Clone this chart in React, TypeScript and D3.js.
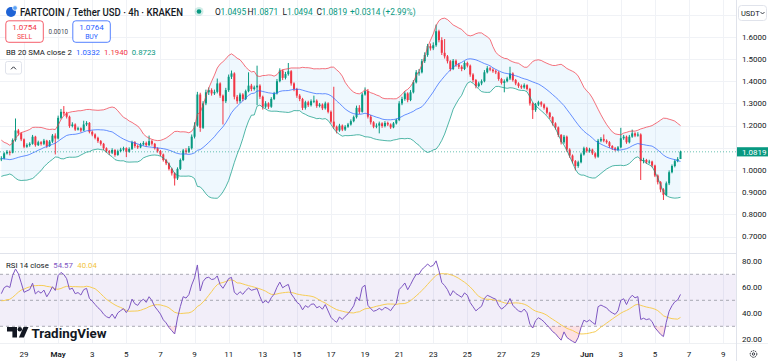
import React from 'react';
import * as d3 from 'd3';

// ── Canvas ────────────────────────────────────────────────────────────────────
const W = 768;
const H = 361;
const AXIS_X = 736; // price scale divider
const FONT = "Roboto, 'Liberation Sans', sans-serif";
const UP = '#089981';
const DOWN = '#f23645';
const INK = '#131722';
const GRID = '#f0f2f6';

// 4h bars, Apr 27 16:00 → Jun 6 12:00
const FIRST_BAR = new Date(2025, 3, 27, 16);
const BAR_MS = 4 * 3600 * 1000;

// closes before the visible window, only used to warm up BB(20) and RSI(14)
const priorCloses = [
  1.02, 1.04, 1.03, 1.06, 1.08, 1.07, 1.10, 1.09, 1.11, 1.12,
  1.10, 1.13, 1.11, 1.12, 1.09, 1.10, 1.08, 1.07, 1.05, 1.06,
  1.03, 1.02, 1.00, 0.99, 1.01, 0.995, 1.02, 1.035, 1.045, 1.05,
];
const firstOpen = 1.05;

const closes = [
  1.052, 1.075, 1.082, 1.078, 1.135, 1.178, 1.165, 1.138, 1.105, 1.112,
  1.118, 1.150, 1.112, 1.125, 1.118, 1.132, 1.108, 1.128, 1.155, 1.142,
  1.235, 1.262, 1.255, 1.240, 1.198, 1.205, 1.182, 1.188, 1.178, 1.205,
  1.212, 1.172, 1.160, 1.145, 1.130, 1.118, 1.098, 1.085, 1.078, 1.090,
  1.068, 1.085, 1.092, 1.098, 1.082, 1.095, 1.125, 1.108, 1.102, 1.115,
  1.122, 1.112, 1.130, 1.118, 1.098, 1.085, 1.070, 1.045, 1.030, 1.005,
  0.985, 0.962, 1.005, 1.045, 1.088, 1.082, 1.098, 1.150, 1.200, 1.340,
  1.190, 1.300, 1.350, 1.360, 1.345, 1.352, 1.390, 1.335, 1.310, 1.360,
  1.420, 1.435, 1.330, 1.310, 1.340, 1.320, 1.355, 1.380, 1.365, 1.372,
  1.380, 1.330, 1.285, 1.300, 1.285, 1.320, 1.345, 1.400, 1.448, 1.415,
  1.432, 1.445, 1.390, 1.365, 1.335, 1.320, 1.280, 1.305, 1.292, 1.310,
  1.312, 1.288, 1.295, 1.278, 1.300, 1.262, 1.218, 1.195, 1.178, 1.200,
  1.182, 1.195, 1.205, 1.220, 1.238, 1.280, 1.262, 1.340, 1.355, 1.240,
  1.215, 1.195, 1.200, 1.210, 1.198, 1.212, 1.205, 1.192, 1.210, 1.225,
  1.300, 1.320, 1.345, 1.315, 1.350, 1.395, 1.440, 1.440, 1.490, 1.518,
  1.558, 1.548, 1.562, 1.625, 1.585, 1.528, 1.512, 1.490, 1.455, 1.492,
  1.475, 1.465, 1.455, 1.482, 1.470, 1.430, 1.405, 1.378, 1.390, 1.400,
  1.440, 1.458, 1.452, 1.445, 1.440, 1.410, 1.392, 1.400, 1.412, 1.435,
  1.405, 1.390, 1.378, 1.372, 1.382, 1.365, 1.300, 1.270, 1.295, 1.305,
  1.295, 1.280, 1.258, 1.238, 1.210, 1.192, 1.158, 1.125, 1.150, 1.092,
  1.065, 1.040, 1.018, 1.035, 1.070, 1.098, 1.085, 1.092, 1.075, 1.060,
  1.132, 1.140, 1.132, 1.125, 1.108, 1.098, 1.090, 1.102, 1.143, 1.150,
  1.125, 1.150, 1.165, 1.155, 1.160, 1.040, 1.045, 1.035, 1.038, 1.020,
  0.975, 0.945, 0.912, 0.888, 0.940, 0.990, 1.018, 1.040, 1.0495, 1.0819,
];

const highs = [
  1.062, 1.080, 1.090, 1.088, 1.142, 1.232, 1.185, 1.170, 1.142, 1.120,
  1.125, 1.158, 1.154, 1.132, 1.130, 1.140, 1.136, 1.135, 1.162, 1.165,
  1.245, 1.275, 1.288, 1.262, 1.245, 1.215, 1.210, 1.195, 1.192, 1.222,
  1.220, 1.216, 1.178, 1.165, 1.150, 1.135, 1.122, 1.102, 1.090, 1.098,
  1.094, 1.092, 1.100, 1.105, 1.102, 1.102, 1.132, 1.130, 1.115, 1.122,
  1.130, 1.128, 1.155, 1.136, 1.122, 1.102, 1.090, 1.074, 1.050, 1.034,
  1.010, 0.990, 1.012, 1.052, 1.095, 1.098, 1.108, 1.160, 1.215, 1.352,
  1.348, 1.310, 1.362, 1.372, 1.368, 1.362, 1.412, 1.395, 1.340, 1.370,
  1.430, 1.448, 1.440, 1.338, 1.348, 1.346, 1.362, 1.440, 1.388, 1.380,
  1.470, 1.386, 1.335, 1.310, 1.305, 1.328, 1.352, 1.410, 1.458, 1.452,
  1.442, 1.482, 1.450, 1.395, 1.370, 1.342, 1.325, 1.312, 1.312, 1.318,
  1.335, 1.318, 1.302, 1.300, 1.308, 1.305, 1.268, 1.375, 1.200, 1.208,
  1.205, 1.202, 1.212, 1.228, 1.245, 1.290, 1.292, 1.348, 1.372, 1.365,
  1.248, 1.220, 1.210, 1.218, 1.215, 1.220, 1.218, 1.210, 1.216, 1.232,
  1.310, 1.330, 1.355, 1.350, 1.360, 1.405, 1.450, 1.455, 1.500, 1.530,
  1.568, 1.570, 1.575, 1.655, 1.632, 1.598, 1.590, 1.518, 1.495, 1.500,
  1.498, 1.482, 1.472, 1.490, 1.488, 1.475, 1.436, 1.410, 1.398, 1.408,
  1.450, 1.468, 1.465, 1.458, 1.452, 1.445, 1.415, 1.408, 1.420, 1.465,
  1.440, 1.410, 1.395, 1.385, 1.390, 1.386, 1.370, 1.305, 1.302, 1.312,
  1.310, 1.300, 1.285, 1.262, 1.242, 1.215, 1.196, 1.162, 1.158, 1.155,
  1.098, 1.070, 1.045, 1.042, 1.078, 1.105, 1.104, 1.100, 1.096, 1.080,
  1.140, 1.148, 1.160, 1.138, 1.130, 1.112, 1.104, 1.108, 1.190, 1.158,
  1.155, 1.158, 1.182, 1.170, 1.170, 1.165, 1.055, 1.050, 1.046, 1.042,
  1.024, 0.980, 0.950, 0.918, 0.948, 0.998, 1.025, 1.048, 1.058, 1.0871,
];

const lows = [
  1.040, 1.048, 1.070, 1.066, 1.075, 1.128, 1.155, 1.130, 1.098, 1.100,
  1.105, 1.114, 1.105, 1.108, 1.110, 1.112, 1.100, 1.104, 1.122, 1.070,
  1.138, 1.228, 1.245, 1.232, 1.190, 1.192, 1.176, 1.178, 1.170, 1.175,
  1.198, 1.165, 1.152, 1.138, 1.122, 1.110, 1.090, 1.078, 1.068, 1.072,
  1.060, 1.064, 1.080, 1.086, 1.058, 1.078, 1.090, 1.100, 1.095, 1.098,
  1.110, 1.105, 1.108, 1.110, 1.092, 1.078, 1.062, 1.038, 1.022, 0.998,
  0.975, 0.930, 0.955, 1.000, 1.040, 1.072, 1.076, 1.092, 1.142, 1.195,
  1.172, 1.185, 1.292, 1.338, 1.335, 1.338, 1.345, 1.325, 1.205, 1.302,
  1.352, 1.410, 1.318, 1.298, 1.302, 1.310, 1.315, 1.350, 1.355, 1.358,
  1.292, 1.320, 1.272, 1.278, 1.275, 1.280, 1.315, 1.340, 1.395, 1.405,
  1.408, 1.425, 1.380, 1.355, 1.325, 1.310, 1.270, 1.272, 1.284, 1.286,
  1.302, 1.280, 1.282, 1.270, 1.272, 1.255, 1.210, 1.185, 1.165, 1.172,
  1.175, 1.176, 1.190, 1.200, 1.215, 1.232, 1.252, 1.258, 1.335, 1.232,
  1.205, 1.188, 1.188, 1.165, 1.190, 1.192, 1.198, 1.185, 1.188, 1.205,
  1.220, 1.292, 1.312, 1.305, 1.310, 1.345, 1.390, 1.425, 1.435, 1.482,
  1.510, 1.538, 1.540, 1.555, 1.575, 1.518, 1.502, 1.480, 1.445, 1.450,
  1.465, 1.455, 1.445, 1.450, 1.462, 1.420, 1.395, 1.368, 1.372, 1.382,
  1.395, 1.435, 1.445, 1.438, 1.432, 1.402, 1.385, 1.350, 1.395, 1.405,
  1.398, 1.382, 1.370, 1.365, 1.366, 1.358, 1.290, 1.230, 1.262, 1.288,
  1.285, 1.272, 1.250, 1.230, 1.200, 1.182, 1.148, 1.115, 1.118, 1.082,
  1.055, 1.030, 0.998, 1.010, 1.030, 1.065, 1.078, 1.078, 1.068, 1.052,
  1.055, 1.125, 1.125, 1.118, 1.100, 1.090, 1.084, 1.085, 1.098, 1.136,
  1.118, 1.120, 1.145, 1.148, 1.150, 0.955, 1.030, 1.028, 1.028, 1.012,
  0.968, 0.935, 0.900, 0.865, 0.882, 0.932, 0.985, 1.012, 1.035, 1.0494,
];

// legend readouts as shown on the chart
const changeText = '+0.0314 (+2.99%)';
const sellBuy = ['1.0754', '0.0010', '1.0764'];
const bbLegend = ['1.0332', '1.1940', '0.8723'];
const rsiLegend = ['54.57', '40.04'];

// axis ticks (1.1000 sits under the last-price tag, so it is not labelled)
const priceTicks = [0.7, 0.8, 0.9, 1.0, 1.2, 1.3, 1.4, 1.5, 1.6];
const priceGrid = [0.7, 0.8, 0.9, 1.0, 1.1, 1.2, 1.3, 1.4, 1.5, 1.6, 1.7];
const rsiTicks = [20, 40, 60, 80];
const rsiLevels = [70, 50, 30];
const tickDays = [
  '2025-04-29', '2025-05-01', '2025-05-03', '2025-05-05', '2025-05-07', '2025-05-09',
  '2025-05-11', '2025-05-13', '2025-05-15', '2025-05-17', '2025-05-19', '2025-05-21',
  '2025-05-23', '2025-05-25', '2025-05-27', '2025-05-29', '2025-06-01', '2025-06-03',
  '2025-06-05', '2025-06-07', '2025-06-09',
];
const tickLabels = [
  '29', 'May', '3', '5', '7', '9', '11', '13', '15', '17', '19', '21',
  '23', '25', '27', '29', 'Jun', '3', '5', '7', '9',
];

// ── Indicators ────────────────────────────────────────────────────────────────
const all = priorCloses.concat(closes);
const P = priorCloses.length;

function bollinger(len: number, mult: number) {
  return closes.map((_, i) => {
    const w = all.slice(P + i - len + 1, P + i + 1);
    const m = d3.mean(w)!;
    const sd = Math.sqrt(d3.mean(w, (v) => (v - m) * (v - m))!);
    return { mid: m, up: m + mult * sd, lo: m - mult * sd };
  });
}

function rsiSeries(len: number) {
  const out: number[] = new Array(all.length).fill(NaN);
  let g = 0;
  let l = 0;
  for (let k = 1; k < all.length; k++) {
    const ch = all[k] - all[k - 1];
    const up = Math.max(ch, 0);
    const dn = Math.max(-ch, 0);
    if (k <= len) {
      g += up / len;
      l += dn / len;
      if (k < len) continue;
    } else {
      g = (g * (len - 1) + up) / len;
      l = (l * (len - 1) + dn) / len;
    }
    out[k] = l === 0 ? 100 : 100 - 100 / (1 + g / l);
  }
  return out;
}

const bands = bollinger(20, 2);
const rsiAll = rsiSeries(14);
const rsi = closes.map((_, i) => rsiAll[P + i]);
const rsiMa = closes.map((_, i) => d3.mean(rsiAll.slice(P + i - 13, P + i + 1))!);

type Band = { mid: number; up: number; lo: number };

export default function App() {
  const times = closes.map((_, i) => new Date(FIRST_BAR.getTime() + i * BAR_MS));
  const x = d3.scaleTime().domain([times[0], times[times.length - 1]]).range([1.3, 680.5]);
  const y = d3.scaleLinear().domain([0.7, 1.6]).range([236.6, 36.8]);
  const yR = d3.scaleLinear().domain([20, 80]).range([339.3, 261.3]);
  const parseDay = d3.timeParse('%Y-%m-%d');
  const fmt4 = d3.format('.4f');
  const fmt2 = d3.format('.2f');

  const opens = closes.map((_, i) => (i === 0 ? firstOpen : closes[i - 1]));
  const bw = 2;

  const bandLine = (key: keyof Band) =>
    d3.line<Band>()
      .x((_, i) => x(times[i]))
      .y((d) => y(d[key]))(bands)!;
  const bandFill = d3.area<Band>()
    .x((_, i) => x(times[i]))
    .y0((d) => y(d.lo))
    .y1((d) => y(d.up))(bands)!;

  const rsiLine = d3.line<number>().x((_, i) => x(times[i])).y((d) => yR(d))(rsi)!;
  const maLine = d3.line<number>().x((_, i) => x(times[i])).y((d) => yR(d))(rsiMa)!;
  const oversold = d3.area<number>()
    .x((_, i) => x(times[i]))
    .y0(yR(30))
    .y1((d) => yR(Math.min(d, 30)))(rsi)!;

  const last = closes[closes.length - 1];
  const lastY = y(last);

  return (
    <div style={{ position: 'fixed', left: 0, top: 0, width: W, height: H, background: '#fff' }}>
      <style>{'body{margin:0}'}</style>
      <svg width={W} height={H} style={{ display: 'block', fontFamily: FONT }}>
        <defs>
          <clipPath id="pricePane">
            <rect x={0} y={0} width={AXIS_X} height={253} />
          </clipPath>
          <clipPath id="rsiPane">
            <rect x={0} y={254} width={AXIS_X} height={89} />
          </clipPath>
        </defs>

        {/* grid */}
        {tickDays.map((d) => {
          const gx = Math.round(x(parseDay(d)!)) + 0.5;
          return <line key={d} x1={gx} x2={gx} y1={0} y2={343} stroke={GRID} />;
        })}
        {priceGrid.map((p) => (
          <line key={p} x1={0} x2={AXIS_X} y1={Math.round(y(p)) + 0.5} y2={Math.round(y(p)) + 0.5} stroke={GRID} />
        ))}

        {/* ── price pane ── */}
        <g clipPath="url(#pricePane)">
          <path d={bandFill} fill="rgba(33,150,243,0.07)" />
          {closes.map((c, i) => {
            const o = opens[i];
            const cx = x(times[i]);
            const col = c >= o ? UP : DOWN;
            const top = y(Math.max(o, c));
            const bot = y(Math.min(o, c));
            return (
              <g key={i}>
                <line x1={cx} x2={cx} y1={y(highs[i])} y2={y(lows[i])} stroke={col} strokeWidth={1} />
                <rect x={cx - bw / 2} y={top} width={bw} height={Math.max(1, bot - top)} fill={col} />
              </g>
            );
          })}
          <path d={bandLine('up')} fill="none" stroke={DOWN} strokeOpacity={0.7} strokeWidth={1} />
          <path d={bandLine('mid')} fill="none" stroke="#2962ff" strokeOpacity={0.7} strokeWidth={1} />
          <path d={bandLine('lo')} fill="none" stroke={UP} strokeOpacity={0.7} strokeWidth={1} />
          <line x1={0} x2={AXIS_X} y1={lastY} y2={lastY} stroke={UP} strokeOpacity={0.6} strokeDasharray="1 2" />
        </g>

        {/* pane separators */}
        <line x1={0} x2={AXIS_X} y1={253.5} y2={253.5} stroke="#e0e3eb" />
        <line x1={0} x2={W} y1={343.5} y2={343.5} stroke="#eef0f3" />
        <line x1={AXIS_X + 0.5} x2={AXIS_X + 0.5} y1={0} y2={H} stroke="#e0e3eb" />

        {/* ── RSI pane ── */}
        <g clipPath="url(#rsiPane)">
          <rect x={0} y={yR(70)} width={AXIS_X} height={yR(30) - yR(70)} fill="rgba(126,87,194,0.1)" />
          {rsiLevels.map((v) => (
            <line key={v} x1={0} x2={AXIS_X} y1={yR(v)} y2={yR(v)} stroke="#9598a1" strokeDasharray="3 3" strokeWidth={0.8} />
          ))}
          <path d={oversold} fill="rgba(242,54,69,0.15)" />
          <path d={maLine} fill="none" stroke="#f7cd55" strokeWidth={1} />
          <path d={rsiLine} fill="none" stroke="#7e57c2" strokeWidth={1} />
        </g>

        {/* ── price axis ── */}
        {priceTicks.map((p) => (
          <text key={p} x={742} y={y(p) + 2.8} fontSize={8} fill={INK}>
            {fmt4(p)}
          </text>
        ))}
        <rect x={AXIS_X + 1} y={lastY - 4.6} width={W - AXIS_X - 1} height={9.2} fill={UP} />
        <text x={742} y={lastY + 2.8} fontSize={8} fill="#fff">
          {fmt4(last)}
        </text>
        <rect x={738.5} y={5.5} width={28} height={15} rx={3} fill="#fff" stroke="#e0e3eb" />
        <text x={741} y={15.6} fontSize={7.5} fill={INK}>USDT</text>
        <path d="M760.5,12 l2,2 l2,-2" fill="none" stroke={INK} strokeWidth={0.8} />

        {/* RSI axis */}
        {rsiTicks.map((v) => (
          <text key={v} x={742} y={yR(v) + 2.8} fontSize={8} fill={INK}>
            {fmt2(v)}
          </text>
        ))}

        {/* time axis */}
        {tickDays.map((d, i) => {
          const lbl = tickLabels[i];
          const month = lbl === 'May' || lbl === 'Jun';
          return (
            <text key={d} x={x(parseDay(d)!)} y={357} fontSize={8} textAnchor="middle" fill={INK} fontWeight={month ? 600 : 400}>
              {lbl}
            </text>
          );
        })}
        <circle cx={753.5} cy={354} r={3.3} fill="none" stroke={INK} strokeWidth={0.9} strokeDasharray="1.6 0.8" />
        <circle cx={753.5} cy={354} r={1.2} fill="none" stroke={INK} strokeWidth={0.8} />

        {/* ── legend: symbol line ── */}
        <circle cx={11} cy={12} r={5} fill="#1e63d6" />
        <circle cx={15} cy={8} r={2.4} fill="#5aa2f5" stroke="#fff" strokeWidth={0.8} />
        <text x={20} y={15.5} fontSize={10.5} fontWeight={500} fill={INK} textLength={163} lengthAdjust="spacingAndGlyphs">
          FARTCOIN / Tether USD · 4h · KRAKEN
        </text>
        <circle cx={199} cy={11.5} r={4.5} fill="rgba(8,153,129,0.18)" />
        <circle cx={199} cy={11.5} r={2.3} fill={UP} />
        <g fontSize={8.4}>
          <text x={215} y={14.5} fill={INK}>O</text>
          <text x={220.5} y={14.5} fill={UP}>{fmt4(opens[opens.length - 1])}</text>
          <text x={247.5} y={14.5} fill={INK}>H</text>
          <text x={252.5} y={14.5} fill={UP}>{fmt4(highs[highs.length - 1])}</text>
          <text x={282.5} y={14.5} fill={INK}>L</text>
          <text x={287} y={14.5} fill={UP}>{fmt4(lows[lows.length - 1])}</text>
          <text x={316.5} y={14.5} fill={INK}>C</text>
          <text x={321.5} y={14.5} fill={UP}>{fmt4(last)}</text>
          <text x={350} y={14.5} fill={UP}>{changeText}</text>
        </g>

        {/* sell / buy */}
        <rect x={5.8} y={20.8} width={37.5} height={21.5} rx={3} fill="#fff" stroke={DOWN} strokeWidth={0.8} />
        <text x={24.5} y={30.3} fontSize={8} textAnchor="middle" fill={DOWN}>{sellBuy[0]}</text>
        <text x={24.5} y={38.8} fontSize={6.8} textAnchor="middle" fill={DOWN}>SELL</text>
        <text x={58.3} y={34} fontSize={6.3} textAnchor="middle" fill="#434651">{sellBuy[1]}</text>
        <rect x={72.8} y={20.8} width={37.5} height={21.5} rx={3} fill="#fff" stroke="#2962ff" strokeWidth={0.8} />
        <text x={91.5} y={30.3} fontSize={8} textAnchor="middle" fill="#2962ff">{sellBuy[2]}</text>
        <text x={91.5} y={38.8} fontSize={6.8} textAnchor="middle" fill="#2962ff">BUY</text>

        {/* BB legend */}
        <g fontSize={7.8}>
          <text x={6} y={54.5} fill={INK}>BB 20 SMA close 2</text>
          <text x={76} y={54.5} fill="#2962ff">{bbLegend[0]}</text>
          <text x={104} y={54.5} fill={DOWN}>{bbLegend[1]}</text>
          <text x={131.7} y={54.5} fill={UP}>{bbLegend[2]}</text>
        </g>
        <rect x={5.5} y={61.5} width={16} height={12.5} rx={2} fill="#fff" stroke="#e0e3eb" />
        <path d="M11,69.3 l2.5,-2.5 l2.5,2.5" fill="none" stroke={INK} strokeWidth={0.9} />

        {/* RSI legend */}
        <g fontSize={7.8}>
          <text x={6} y={267.5} fill={INK}>RSI 14 close</text>
          <text x={53.3} y={267.5} fill="#7e57c2">{rsiLegend[0]}</text>
          <text x={77.3} y={267.5} fill="#f2c43b">{rsiLegend[1]}</text>
        </g>

        {/* TradingView watermark */}
        <path d="M7,327 h10 v10.5 h-4.6 v-6 h-5.4 z" fill={INK} />
        <circle cx={19.8} cy={329.3} r={2.2} fill={INK} />
        <path d="M23.5,327 h5 l-4.6,10.5 h-5 z" fill={INK} />
        <text x={31.5} y={337.5} fontSize={13} fontWeight={700} fill={INK} textLength={75} lengthAdjust="spacingAndGlyphs">
          TradingView
        </text>
      </svg>
    </div>
  );
}
